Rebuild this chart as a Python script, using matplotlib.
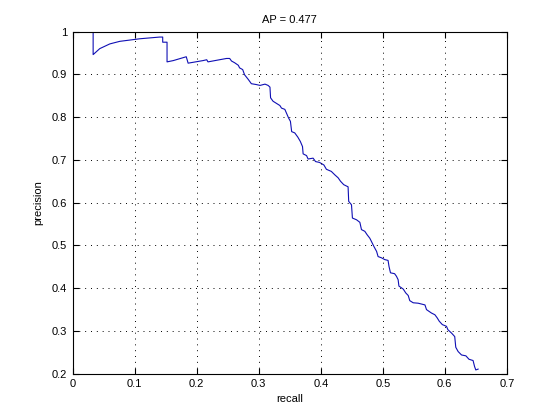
import matplotlib
matplotlib.use("Agg")
import matplotlib.pyplot as plt

plt.rcParams['font.family'] = ['Liberation Sans', 'DejaVu Sans']

title = "AP = 0.477"
x_ticks = [0, 0.1, 0.2, 0.3, 0.4, 0.5, 0.6, 0.7]
x_tick_labels = ["0", "0.1", "0.2", "0.3", "0.4", "0.5", "0.6", "0.7"]
y_ticks = [0.2, 0.3, 0.4, 0.5, 0.6, 0.7, 0.8, 0.9, 1.0]
y_tick_labels = ["0.2", "0.3", "0.4", "0.5", "0.6", "0.7", "0.8", "0.9", "1"]

recall = [
    0.0328, 0.0328, 0.0435, 0.0597, 0.0758, 0.092, 0.108, 0.124, 0.140, 0.145,
    0.145, 0.152, 0.152, 0.162, 0.183, 0.186, 0.210, 0.216, 0.218, 0.248,
    0.253, 0.256, 0.261, 0.267, 0.269, 0.274, 0.277, 0.283, 0.288, 0.296,
    0.302, 0.310, 0.315, 0.318, 0.319, 0.323, 0.3285, 0.334, 0.3366, 0.342,
    0.345, 0.348, 0.351, 0.353, 0.358, 0.363, 0.367, 0.3705, 0.3715, 0.377,
    0.3795, 0.3876, 0.3915, 0.398, 0.405, 0.409, 0.417, 0.4226, 0.428, 0.4318,
    0.437, 0.444, 0.445, 0.4495, 0.451, 0.4576, 0.463, 0.4656, 0.471, 0.4747,
    0.479, 0.4818, 0.4855, 0.490, 0.4924, 0.498, 0.503, 0.5085, 0.510, 0.5124,
    0.519, 0.522, 0.5247, 0.526, 0.527, 0.533, 0.537, 0.541, 0.5435, 0.549,
    0.557, 0.568, 0.5705, 0.5785, 0.584, 0.5876, 0.591, 0.596, 0.6027, 0.605,
    0.611, 0.616, 0.6177, 0.6215, 0.627, 0.634, 0.639, 0.6456, 0.648, 0.650,
    0.6537,
]
precision = [
    1.0, 0.946, 0.960, 0.971, 0.977, 0.980, 0.983, 0.985, 0.987, 0.987,
    0.975, 0.975, 0.929, 0.932, 0.941, 0.926, 0.932, 0.934, 0.929, 0.937,
    0.937, 0.931, 0.927, 0.921, 0.915, 0.911, 0.899, 0.888, 0.878, 0.876,
    0.874, 0.877, 0.874, 0.870, 0.845, 0.837, 0.832, 0.827, 0.821, 0.818,
    0.808, 0.798, 0.790, 0.766, 0.763, 0.753, 0.743, 0.731, 0.714, 0.710,
    0.702, 0.704, 0.696, 0.694, 0.688, 0.678, 0.673, 0.665, 0.658, 0.650,
    0.642, 0.637, 0.603, 0.595, 0.564, 0.560, 0.554, 0.537, 0.533, 0.525,
    0.517, 0.509, 0.498, 0.486, 0.474, 0.471, 0.467, 0.465, 0.451, 0.436,
    0.434, 0.428, 0.420, 0.405, 0.404, 0.398, 0.389, 0.383, 0.371, 0.366,
    0.365, 0.361, 0.350, 0.342, 0.338, 0.331, 0.323, 0.315, 0.311, 0.303,
    0.295, 0.287, 0.262, 0.252, 0.244, 0.242, 0.234, 0.231, 0.217, 0.209,
    0.211,
]

fig = plt.figure(figsize=(5.6, 4.2), dpi=100)
fig.patch.set_facecolor('white')
ax = fig.add_axes([0.13, 0.11, 0.775, 0.815])
ax.plot(recall, precision, color='#0f0fb4', linewidth=0.8)

ax.set_xlim(0, 0.7)
ax.set_ylim(0.2, 1.0)
ax.set_xticks(x_ticks)
ax.set_xticklabels(x_tick_labels)
ax.set_yticks(y_ticks)
ax.set_yticklabels(y_tick_labels)
ax.tick_params(direction='in', length=4, width=0.8, top=True, right=True,
               labelsize=8, pad=4, colors='black')
for s in ax.spines.values():
    s.set_linewidth(0.8)
ax.grid(True, color='black', linestyle=(0, (1, 5)), linewidth=0.7)
ax.set_axisbelow(False)
ax.set_title(title, fontsize=8, pad=6)
ax.set_xlabel("recall", fontsize=8, labelpad=3)
ax.set_ylabel("precision", fontsize=8, labelpad=6)

fig.savefig("out.png", dpi=100, facecolor='white')
